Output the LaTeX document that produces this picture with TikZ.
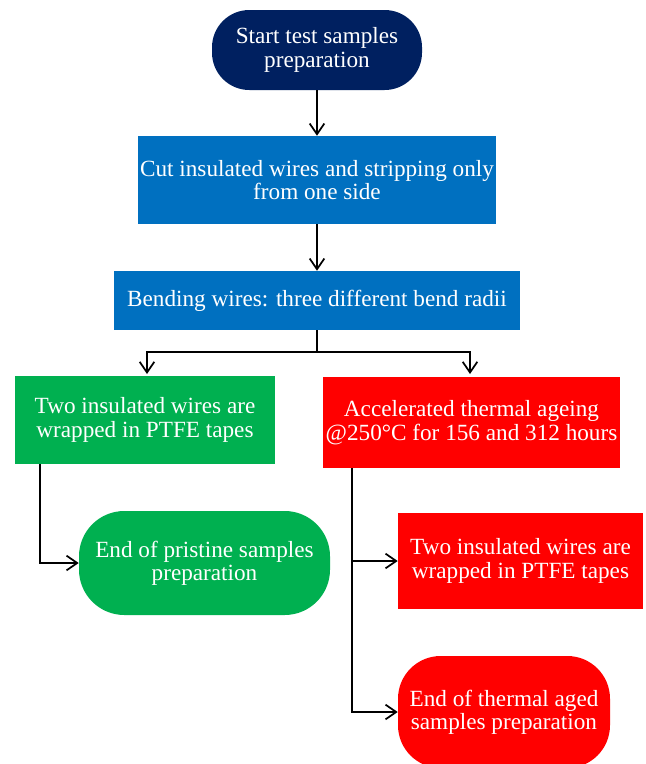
\documentclass[tikz,border=0pt]{standalone}
\usepackage{fontspec}
\setmainfont{Liberation Serif}
\usepackage{tikz}
\usetikzlibrary{positioning,arrows.meta,calc}
\definecolor{navy}{HTML}{002060}
\definecolor{stepblue}{HTML}{0070C0}
\definecolor{stepgreen}{HTML}{00B050}
\definecolor{stepred}{HTML}{FF0000}

\begin{document}
\begin{tikzpicture}[
    x=0.75pt, y=-0.75pt,
    block/.style={draw=none, text=white, align=center, inner sep=0.5pt,
        font=\fontsize{17.4}{17.5}\selectfont},
    term/.style={block, rounded corners=#1},
    arrow/.style={-{Straight Barb[length=8pt, width=11pt]}, line width=1.3pt},
    line/.style={line width=1.3pt}
]
\useasboundingbox (0,0) rectangle (646,764);

% Main column
\node[term=28pt, fill=navy, minimum width=157.5pt, minimum height=60pt] (start) at (317,50) {Start test samples\\preparation};
\node[block, fill=stepblue, minimum width=268.5pt, minimum height=66pt] (cut) at (317,180) {Cut insulated wires and stripping only\\from one side};
\node[block, fill=stepblue, minimum width=304.5pt, minimum height=44.25pt] (bend) at (317,300.5) {Bending wires: three different bend radii};

% Pristine branch
\node[block, fill=stepgreen, minimum width=195pt, minimum height=66pt] (wrapA) at (145,420) {Two insulated wires are\\wrapped in PTFE tapes};
\node[term=34pt, fill=stepgreen, minimum width=188.25pt, minimum height=78pt] (endA) at (204.5,563) {End of pristine samples\\preparation};

% Aged branch
\node[block, fill=stepred, minimum width=222.75pt, minimum height=68.25pt] (ageing) at (471.5,422.5) {Accelerated thermal ageing\\@250°C for 156 and 312 hours};
\node[block, fill=stepred, minimum width=183.75pt, minimum height=72pt] (wrapB) at (520.5,561) {Two insulated wires are\\wrapped in PTFE tapes};
\node[term=32pt, fill=stepred, minimum width=159pt, minimum height=84pt] (endB) at (504,712) {End of thermal aged\\samples preparation};

% Arrows
\coordinate (split) at ($(bend.south)+(0,22)$);
\coordinate (downA) at ($(wrapA.south west)+(25,0)$);
\coordinate (downB) at ($(ageing.south west)+(29,0)$);

\draw[arrow] (start) -- (cut);
\draw[arrow] (cut) -- (bend);
\draw[line] (bend) -- (split);
\draw[arrow] (split) -| (147,374);
\draw[arrow] (split) -| (470,374);
\draw[arrow] (downA) |- (endA.west);
\draw[arrow] (downB) |- (wrapB.west);
\draw[arrow] (downB) |- (endB.west);
\end{tikzpicture}
\end{document}
